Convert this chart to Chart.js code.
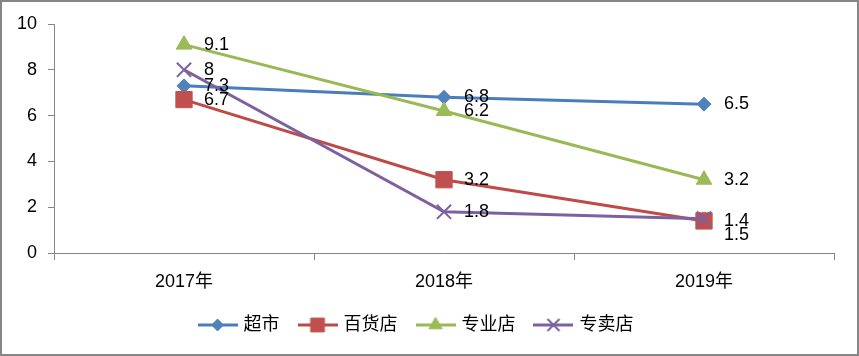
<!DOCTYPE html>
<html><head><meta charset="utf-8">
<script src="https://cdn.jsdelivr.net/npm/chart.js@4"></script>
<style>html,body{margin:0;padding:0;background:#fff;overflow:hidden}canvas{display:block}</style>
</head><body><canvas id="c" width="859" height="356"></canvas>
<script>
const categories = ['2017年', '2018年', '2019年'];
const seriesNames = ['超市', '百货店', '专业店', '专卖店'];
const supermarket = [7.3, 6.8, 6.5];
const departmentStore = [6.7, 3.2, 1.4];
const specialtyStore = [9.1, 6.2, 3.2];
const exclusiveStore = [8, 1.8, 1.5];
const yMin = 0, yMax = 10, yStep = 2;

const FONT = '"Liberation Sans", "Noto Sans CJK SC", sans-serif';
const AXIS = '#868686';
const styles = [
  {line: '#4A7EBB', fill: '#4F81BD', pointStyle: 'rectRot', radius: 7, bw: 1},
  {line: '#BE4B48', fill: '#C0504D', pointStyle: 'rect', radius: 11.5, bw: 1},
  {line: '#98B954', fill: '#9BBB59', pointStyle: 'triangle', radius: 9, bw: 1},
  {line: '#7D60A0', fill: '#8064A2', pointStyle: 'crossRot', radius: 10, bw: 2}
];
const values = [supermarket, departmentStore, specialtyStore, exclusiveStore];

function legendImg(s) {
  const c = document.createElement('canvas');
  c.width = 40; c.height = 20;
  const g = c.getContext('2d');
  g.strokeStyle = s.line; g.lineWidth = 3;
  g.beginPath(); g.moveTo(0, 10); g.lineTo(40, 10); g.stroke();
  g.fillStyle = s.fill;
  g.strokeStyle = s.pointStyle === 'crossRot' ? s.line : s.fill;
  g.lineWidth = s.bw;
  Chart.helpers.drawPoint(g, {pointStyle: s.pointStyle, radius: s.radius * 0.85, rotation: 0, borderWidth: s.bw}, 20, 10);
  return c;
}
const legendImgs = styles.map(legendImg);

const datasets = values.map((v, i) => ({
  label: seriesNames[i],
  data: v,
  borderColor: styles[i].line,
  backgroundColor: styles[i].fill,
  borderWidth: 3,
  pointStyle: styles[i].pointStyle,
  pointRadius: styles[i].radius,
  pointBackgroundColor: styles[i].fill,
  pointBorderColor: styles[i].pointStyle === 'crossRot' ? styles[i].line : styles[i].fill,
  pointBorderWidth: styles[i].bw,
  tension: 0,
  order: 3 - i
}));

const valueLabels = {
  id: 'valueLabels',
  afterDatasetsDraw(chart) {
    const ctx = chart.ctx;
    ctx.save();
    ctx.font = '18px ' + FONT;
    ctx.fillStyle = '#000';
    ctx.textAlign = 'left';
    ctx.textBaseline = 'middle';
    const placed = {};
    chart.data.datasets.forEach((ds, di) => {
      const meta = chart.getDatasetMeta(di);
      meta.data.forEach((pt, i) => {
        let y = pt.y;
        const arr = placed[i] || (placed[i] = []);
        for (const py of arr) { if (Math.abs(y - py) < 10) y = py + 14; }
        arr.push(y);
        ctx.fillText(String(ds.data[i]), pt.x + 20, y);
      });
    });
    ctx.restore();
  }
};

const frame = {
  id: 'frame',
  afterDraw(chart) {
    const ctx = chart.ctx;
    ctx.save();
    ctx.strokeStyle = AXIS;
    ctx.lineWidth = 2;
    ctx.strokeRect(1, 1, chart.width - 2, chart.height - 2);
    ctx.restore();
  }
};

new Chart(document.getElementById('c'), {
  type: 'line',
  data: {labels: categories, datasets},
  plugins: [valueLabels, frame],
  options: {
    responsive: false,
    animation: false,
    layout: {padding: {top: 24, right: 25, bottom: 12, left: 0}},
    plugins: {
      tooltip: {enabled: false},
      legend: {
        position: 'bottom',
        labels: {
          usePointStyle: true,
          pointStyleWidth: 34,
          padding: 21,
          color: '#000',
          font: {size: 18, family: FONT},
          generateLabels(chart) {
            const items = Chart.defaults.plugins.legend.labels.generateLabels(chart);
            items.sort((a, b) => a.datasetIndex - b.datasetIndex);
            items.forEach(it => { it.pointStyle = legendImgs[it.datasetIndex]; it.rotation = 0; });
            return items;
          }
        }
      }
    },
    scales: {
      x: {
        type: 'category',
        offset: true,
        grid: {offset: true, drawOnChartArea: false, drawTicks: true, tickLength: 7, color: AXIS},
        border: {color: AXIS, width: 1},
        ticks: {color: '#000', font: {size: 18, family: FONT}, padding: 11, maxRotation: 0},
        afterFit(scale) { scale.height = 42; }
      },
      y: {
        min: yMin, max: yMax,
        ticks: {stepSize: yStep, color: '#000', font: {size: 18, family: FONT}, padding: 11},
        grid: {drawOnChartArea: false, drawTicks: true, tickLength: 6, color: AXIS},
        border: {color: AXIS, width: 1},
        afterFit(scale) { scale.width = 54; }
      }
    }
  }
});
</script>
</body></html>
